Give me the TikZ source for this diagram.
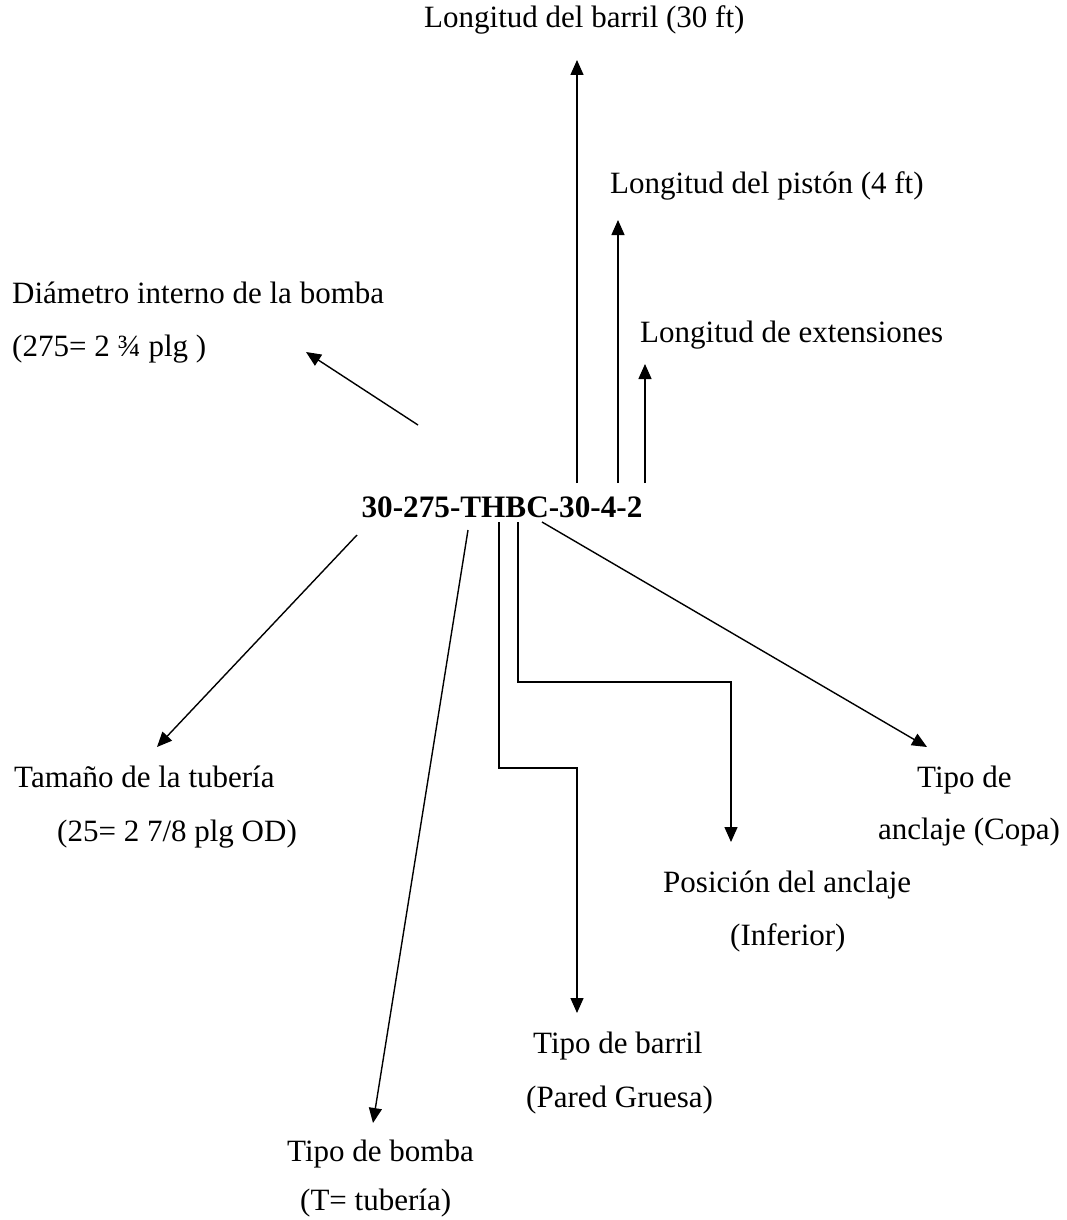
\documentclass[tikz,border=0pt]{standalone}
\usepackage{fontspec}
\setmainfont{Liberation Serif}
\usetikzlibrary{arrows.meta}
\tikzset{
  lbl/.style={anchor=base west, inner sep=0pt, font=\fontsize{31}{37}\selectfont},
  mainlbl/.style={anchor=base, inner sep=0pt, font=\fontsize{31.2}{38}\selectfont\bfseries},
  conn/.style={line width=1.4pt, -{Triangle[length=15pt,width=13pt]}},
}
\begin{document}
\begin{tikzpicture}[x=1pt,y=-1pt]
\useasboundingbox[fill=white] (0,0) rectangle (1066,1220);

% central code
\node[mainlbl] (code) at (502,517) {30-275-THBC-30-4-2};

% labels
\node[lbl] (barril) at (424,28) {Longitud del barril (30 ft)};
\node[lbl] (piston) at (610,193) {Longitud del pistón (4 ft)};
\node[lbl] (ext) at (640,342) {Longitud de extensiones};
\node[lbl] (diam1) at (12,303) {Diámetro interno de la bomba};
\node[lbl] (diam2) at (12,356) {(275= 2 ¾ plg )};
\node[lbl] (tam1) at (14,787) {Tamaño de la tubería};
\node[lbl] (tam2) at (57,841) {(25= 2 7/8 plg OD)};
\node[lbl] (bomba1) at (287,1161) {Tipo de bomba};
\node[lbl] (bomba2) at (300,1210) {(T= tubería)};
\node[lbl] (tbar1) at (533,1053) {Tipo de barril};
\node[lbl] (tbar2) at (526,1107) {(Pared Gruesa)};
\node[lbl] (pos1) at (663,892) {Posición del anclaje};
\node[lbl] (pos2) at (730,945) {(Inferior)};
\node[lbl] (anc1) at (917,787) {Tipo de};
\node[lbl] (anc2) at (878,839) {anclaje (Copa)};

% connector end points
\coordinate (bS) at (577,483);  \coordinate (bE) at (577,60);
\coordinate (pS) at (618,483);  \coordinate (pE) at (618,220);
\coordinate (eS) at (645,483);  \coordinate (eE) at (645,364);
\coordinate (dS) at (418,425);  \coordinate (dE) at (306,352);
\coordinate (tS) at (357,535);  \coordinate (tE) at (157,747);
\coordinate (oS) at (468,530);  \coordinate (oE) at (373,1123);
\coordinate (rS) at (499,522);  \coordinate (rE) at (577,1013);
\coordinate (qS) at (518,522);  \coordinate (qE) at (731,842);
\coordinate (aS) at (542,522);  \coordinate (aE) at (927,747);

\draw[conn] (bS) -- (bE);
\draw[conn] (pS) -- (pE);
\draw[conn] (eS) -- (eE);
\draw[conn] (dS) -- (dE);
\draw[conn] (tS) -- (tE);
\draw[conn] (oS) -- (oE);
\draw[conn] (rS) -- (499,768) -- (577,768) -- (rE);
\draw[conn] (qS) -- (518,682) -- (731,682) -- (qE);
\draw[conn] (aS) -- (aE);
\end{tikzpicture}
\end{document}
